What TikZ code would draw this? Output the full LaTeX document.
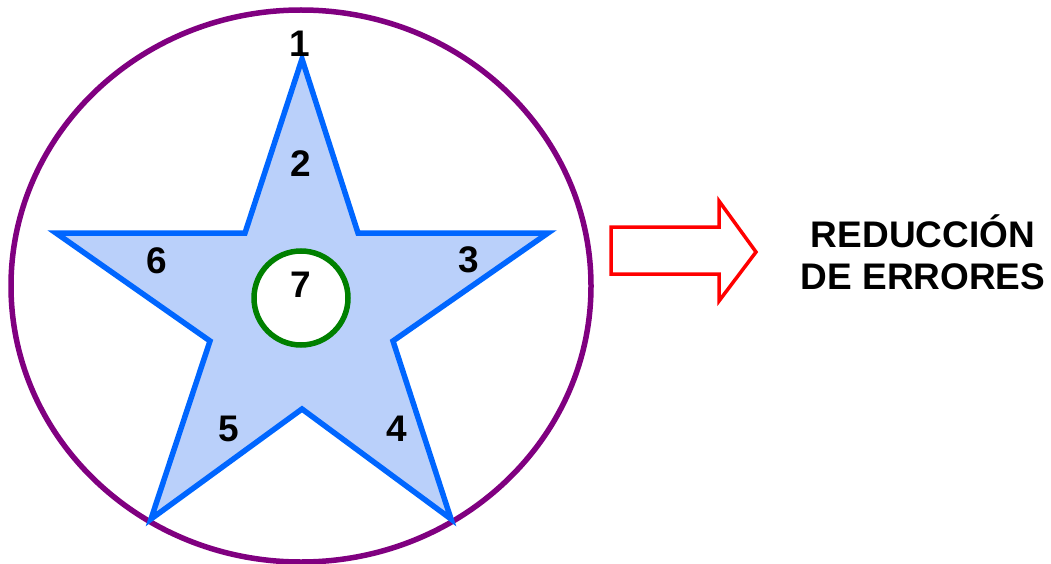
\documentclass[tikz,border=0pt]{standalone}
\usepackage{fontspec}
\setsansfont{Liberation Sans}
\usetikzlibrary{positioning}

\definecolor{ringpurple}{RGB}{128,0,128}
\definecolor{starblue}{RGB}{0,102,255}
\definecolor{starfill}{RGB}{186,208,250}
\definecolor{holegreen}{RGB}{0,128,0}

\begin{document}
\begin{tikzpicture}[
    x=1pt, y=-1pt,
    font=\sffamily\bfseries\fontsize{37}{42}\selectfont,
    ring/.style={draw=ringpurple, line width=5.5pt},
    starline/.style={draw=starblue, line width=5.5pt, fill=starfill, line join=miter, miter limit=20},
    hole/.style={draw=holegreen, line width=5.5pt, fill=white, circle, minimum size=94pt, inner sep=0pt},
    bigarrow/.style={draw=red, line width=3.5pt, fill=white, line join=miter},
    num/.style={inner sep=0pt, anchor=center},
    caption/.style={align=center, inner sep=0pt}
]
\useasboundingbox (0,0) rectangle (1051,564);

% outer ring
\draw[ring] (301,286) ellipse [x radius=290, y radius=276];

% star points
\coordinate (tipA) at (302,59);
\coordinate (inB) at (358,233);
\coordinate (tipC) at (548,233);
\coordinate (inD) at (393,341);
\coordinate (tipE) at (451,519);
\coordinate (inF) at (302,409);
\coordinate (tipG) at (151,519);
\coordinate (inH) at (210,341);
\coordinate (tipI) at (56,233);
\coordinate (inJ) at (245,233);

\draw[starline] (tipA) -- (inB) -- (tipC) -- (inD) -- (tipE) -- (inF)
    -- (tipG) -- (inH) -- (tipI) -- (inJ) -- cycle;

% center circle
\node[hole] (seven) at (301,298) {};
\node[num] (n7) at (301,285) {7};

% numbers
\node[num] (n1) at (300,44) {1};
\node[num] (n2) at (301,164) {2};
\node[num] (n3) at (469,260) {3};
\node[num] (n4) at (397,429) {4};
\node[num] (n5) at (229,429) {5};
\node[num] (n6) at (157,261) {6};

% block arrow
\draw[bigarrow] (611,227) -- (719,227) -- (719,201) -- (756,252)
    -- (719,301) -- (719,274) -- (611,274) -- cycle;

\node[caption] (goal) at (923,252) {REDUCCIÓN\\DE ERRORES};

\end{tikzpicture}
\end{document}
